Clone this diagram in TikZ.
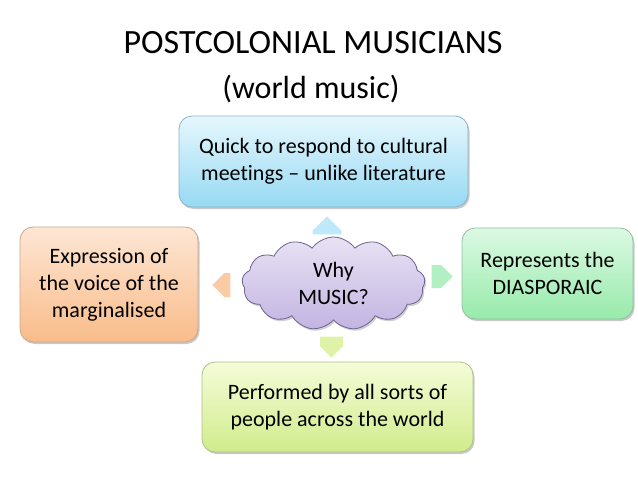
\documentclass[tikz,border=0pt]{standalone}
\usepackage{fontspec}
\setmainfont[Ligatures={NoCommon}]{Carlito}
\usetikzlibrary{shapes.symbols,shapes.arrows,shadows}
\definecolor{bluetop}{HTML}{E6F7FD}
\definecolor{bluebot}{HTML}{96D9F3}
\definecolor{blueline}{HTML}{8DB3C6}
\definecolor{ortop}{HTML}{FDE6D4}
\definecolor{orbot}{HTML}{F9BC8A}
\definecolor{orline}{HTML}{C8A890}
\definecolor{grtop}{HTML}{DCF9E3}
\definecolor{grbot}{HTML}{97EAAB}
\definecolor{grline}{HTML}{94BE9E}
\definecolor{yltop}{HTML}{F5FCD8}
\definecolor{ylbot}{HTML}{D0EC8C}
\definecolor{ylline}{HTML}{AFC08A}
\definecolor{lvtop}{HTML}{E8E2F4}
\definecolor{lvbot}{HTML}{C3B4E2}
\definecolor{lvline}{HTML}{6E6192}
\definecolor{arblue}{HTML}{BDE9FA}
\definecolor{argreen}{HTML}{B2EFC2}
\definecolor{aror}{HTML}{FBCBA5}
\definecolor{aryl}{HTML}{DFF3A8}
\tikzset{
  ideabox/.style={draw, line width=0.8pt, rounded corners=13pt, align=center,
    font=\fontsize{22}{27}\selectfont, inner sep=0pt,
    drop shadow={shadow xshift=1.5pt, shadow yshift=-2pt, opacity=0.35, fill=black!60}},
  blockarrow/.style={single arrow, draw=none, inner sep=0pt,
    single arrow head extend=0pt, shape border uses incircle=false, anchor=tip},
}
\begin{document}
\begin{tikzpicture}[x=1pt,y=-1pt]
\useasboundingbox (0,0) rectangle (638,479);
\fill[white] (0,0) rectangle (638,479);
\node[font=\fontsize{34}{40}\selectfont, anchor=base] (title) at (313,53) {POSTCOLONIAL MUSICIANS};
\node[font=\fontsize{32}{40}\selectfont, anchor=base] (sub) at (311,98) {(world music)};

\node[ideabox, draw=blueline, top color=bluetop, bottom color=bluebot,
  minimum width=289pt, minimum height=91pt] (top) at (323.5,161.5)
  {Quick to respond to cultural\\meetings -- unlike literature};
\node[ideabox, draw=orline, top color=ortop, bottom color=orbot,
  minimum width=178pt, minimum height=115pt] (left) at (109,284.5)
  {Expression of\\the voice of the\\marginalised};
\node[ideabox, draw=grline, top color=grtop, bottom color=grbot,
  minimum width=171pt, minimum height=91pt] (right) at (547.5,273.5)
  {Represents the\\DIASPORAIC};
\node[ideabox, draw=ylline, top color=yltop, bottom color=ylbot,
  minimum width=271pt, minimum height=90pt] (bottom) at (337.5,407)
  {Performed by all sorts of\\people across the world};

\node[cloud, cloud puffs=13, cloud puff arc=110, aspect=2, draw=lvline, line width=0.8pt,
  top color=lvtop, bottom color=lvbot, inner sep=0pt,
  minimum width=183pt, minimum height=93pt, align=center,
  font=\fontsize{22}{27}\selectfont,
  drop shadow={shadow xshift=1.5pt, shadow yshift=-2pt, opacity=0.3, fill=black!60}] (why) at (333.5,283.5)
  {Why\\MUSIC?};

\node[blockarrow, rotate=90, minimum height=18pt, minimum width=29pt,
  fill=arblue] (aup) at (327,216) {};
\node[blockarrow, minimum height=21pt, minimum width=23pt,
  fill=argreen] (aright) at (453,276.5) {};
\node[blockarrow, rotate=180, minimum height=18pt, minimum width=24pt,
  fill=aror] (aleft) at (212,285) {};
\node[blockarrow, rotate=-90, minimum height=21pt, minimum width=23pt,
  fill=aryl] (adown) at (331.5,358) {};
\end{tikzpicture}
\end{document}
